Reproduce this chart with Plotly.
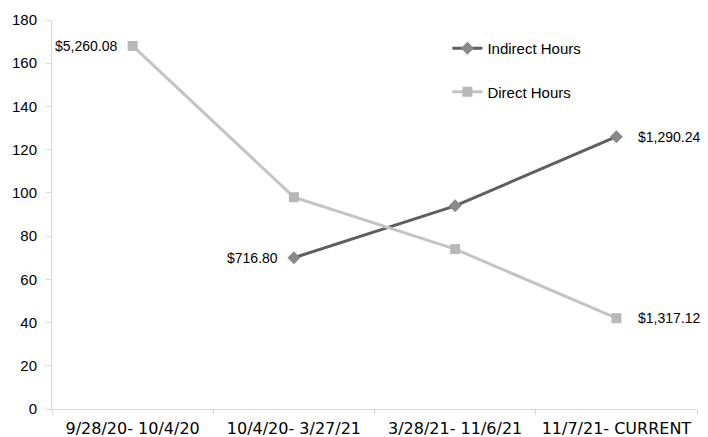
import plotly.graph_objects as go

categories = ["9/28/20- 10/4/20", "10/4/20- 3/27/21", "3/28/21- 11/6/21", "11/7/21- CURRENT"]
indirect_hours = [None, 70, 94, 126]
direct_hours = [168, 98, 74, 42]
indirect_labels = ["", "$716.80", "", "$1,290.24"]
direct_labels = ["$5,260.08", "", "", "$1,317.12"]
y_ticks = [0, 20, 40, 60, 80, 100, 120, 140, 160, 180]

FONT = "Liberation Sans"

fig = go.Figure()
fig.add_trace(go.Scatter(
    x=categories, y=indirect_hours, name="Indirect Hours", mode="lines+markers",
    line=dict(color="#5f5f5f", width=3),
    marker=dict(symbol="diamond", size=10, color="#8a8a8a"),
    legendgroup="a",
))
fig.add_trace(go.Scatter(
    x=categories, y=direct_hours, name="Direct Hours", mode="lines+markers",
    line=dict(color="#c4c4c4", width=3),
    marker=dict(symbol="square", size=10, color="#b8b8b8"),
    legendgroup="b",
))

# value labels: left of the first labelled point, right of the last one
for values, labels in ((indirect_hours, indirect_labels), (direct_hours, direct_labels)):
    for i, (v, lab) in enumerate(zip(values, labels)):
        if not lab:
            continue
        right = i == len(values) - 1
        fig.add_annotation(
            x=categories[i], y=v, text=lab, showarrow=False,
            xanchor="left" if right else "right",
            xshift=20 if right else -14,
            font=dict(size=14, family=FONT, color="#000000"),
        )

# the page body has an 8px margin, so the figure is sized to fit inside the window
fig.update_layout(
    width=700, height=429,
    margin=dict(l=44, r=11, t=12, b=28),
    paper_bgcolor="white", plot_bgcolor="white",
    font=dict(family=FONT, size=14, color="#000000"),
    showlegend=True,
    legend=dict(x=0.613, y=0.969, xanchor="left", yanchor="top",
                bgcolor="rgba(0,0,0,0)", tracegroupgap=21,
                font=dict(size=15, family=FONT)),
    xaxis=dict(type="category", range=[-0.5, 3.5], showgrid=False, showline=True,
               linecolor="#d9d9d9", ticks="outside", tickson="boundaries", ticklen=5,
               tickcolor="#d9d9d9", automargin=False, ticklabelstandoff=5,
               tickfont=dict(size=16, family="DejaVu Sans")),
    yaxis=dict(range=[0, 180], tickvals=y_ticks, showgrid=False, showline=True,
               linecolor="#d9d9d9", ticks="outside", ticklen=5, tickcolor="#d9d9d9",
               zeroline=False, automargin=False, ticklabelstandoff=6,
               tickfont=dict(size=15, family=FONT)),
)
fig.write_html("out.html")
